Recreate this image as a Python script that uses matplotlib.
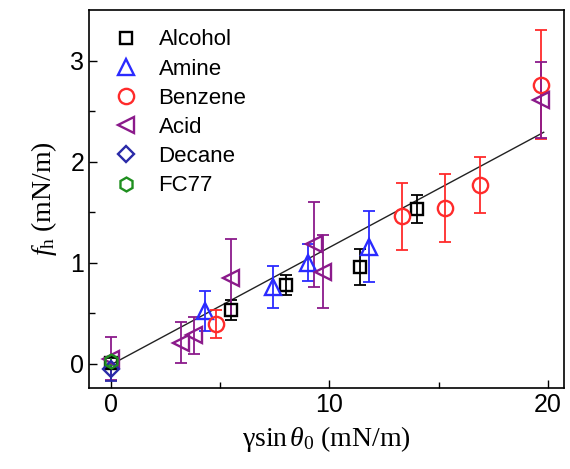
import matplotlib
matplotlib.use('Agg')
import matplotlib.pyplot as plt

# fonts: sans for ticks/legend, serif for axis labels
plt.rcParams['font.family'] = ['Liberation Sans', 'DejaVu Sans']
plt.rcParams['mathtext.fontset'] = 'custom'
plt.rcParams['mathtext.rm'] = 'Liberation Serif'
plt.rcParams['mathtext.it'] = 'Liberation Serif:italic'

# Data
alcohol_x = [0.0, 5.5, 8.0, 11.4, 14.0]
alcohol_y = [0.01, 0.53, 0.78, 0.96, 1.53]
alcohol_err = [0.05, 0.10, 0.10, 0.18, 0.14]

amine_x = [4.3, 7.4, 9.0, 11.8]
amine_y = [0.52, 0.76, 1.00, 1.16]
amine_err = [0.20, 0.21, 0.18, 0.35]

benzene_x = [4.8, 13.3, 15.3, 16.9, 19.7]
benzene_y = [0.39, 1.46, 1.54, 1.77, 2.76]
benzene_err = [0.14, 0.33, 0.34, 0.28, 0.54]

acid_x = [0.0, 3.2, 3.8, 5.5, 9.3, 9.7, 19.7]
acid_y = [0.05, 0.21, 0.28, 0.85, 1.18, 0.91, 2.61]
acid_err = [0.21, 0.20, 0.18, 0.38, 0.42, 0.36, 0.38]

decane_x = [0.0]
decane_y = [-0.05]
decane_err = [0.12]

fc77_x = [0.0]
fc77_y = [0.03]
fc77_err = [0.04]

# linear fit
fit_x = [0.0, 19.8]
fit_y = [-0.01, 2.29]

series = [
    ('Alcohol', alcohol_x, alcohol_y, alcohol_err, 's', 'black', 9),
    ('Amine', amine_x, amine_y, amine_err, '^', '#2b2bff', 11),
    ('Benzene', benzene_x, benzene_y, benzene_err, 'o', '#ff2b2b', 11),
    ('Acid', acid_x, acid_y, acid_err, '<', '#8b1a8b', 11),
    ('Decane', decane_x, decane_y, decane_err, 'D', '#2a2aa8', 8.5),
    ('FC77', fc77_x, fc77_y, fc77_err, 'h', '#1f8f1f', 10),
]

fig = plt.figure(figsize=(5.7, 4.69), dpi=100)
ax = fig.add_axes([89/570, 1-388/469, (564-89)/570, (388-10)/469])

ax.plot(fit_x, fit_y, color='#222222', lw=1.0, zorder=1)

for name, x, y, e, m, c, ms in series:
    ax.errorbar(x, y, yerr=e, fmt='none', ecolor=c, elinewidth=1.3,
                capsize=4.5, capthick=1.3, zorder=2)
    ax.plot(x, y, ls='none', marker=m, ms=ms, mfc='none', mec=c, mew=1.7,
            label=name, zorder=3)

ax.set_xlim(-1.0, 20.73)
ax.set_ylim(-0.24, 3.5)
ax.set_xticks([0, 10, 20])
ax.set_xticks([5, 15], minor=True)
ax.set_yticks([0, 1, 2, 3])
ax.set_yticks([0.5, 1.5, 2.5], minor=True)
ax.tick_params(which='both', direction='in', labelsize=18, width=1)
ax.tick_params(which='major', length=6)
ax.tick_params(which='minor', length=4)
for s in ax.spines.values():
    s.set_linewidth(1.2)

ax.set_xlabel(r'$\mathrm{\gamma sin}\,\mathit{\theta}_{\mathrm{0}}\ \mathrm{(mN/m)}$', fontsize=20, labelpad=5)
ax.set_ylabel(r'$\mathit{f}_{\mathrm{h}}\ \mathrm{(mN/m)}$', fontsize=20, labelpad=8)

ax.legend(loc='upper left', bbox_to_anchor=(0.02, 0.99), frameon=False,
          fontsize=16, handlelength=1.1, handletextpad=0.9, labelspacing=0.37,
          borderaxespad=0.3)

fig.savefig('out.png', dpi=100)
